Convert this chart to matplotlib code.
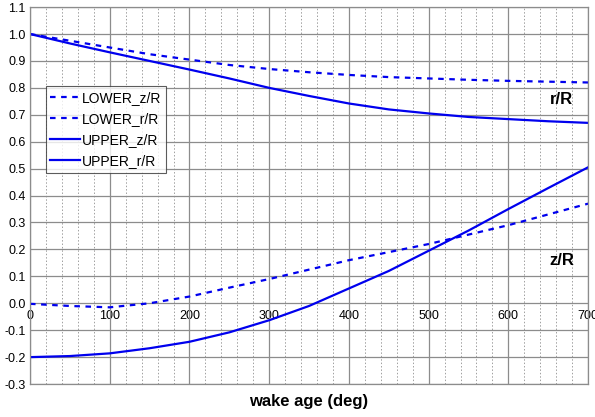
import matplotlib
matplotlib.use("Agg")
import matplotlib.pyplot as plt
import numpy as np
from matplotlib.ticker import MultipleLocator

plt.rcParams['font.family'] = ['Liberation Sans', 'DejaVu Sans']

# wake age (deg)
age = [0, 50, 100, 150, 200, 250, 300, 350, 400, 450, 500, 550, 600, 650, 700]

lower_z = [-0.002, -0.01, -0.015, 0.0, 0.025, 0.058, 0.09, 0.125, 0.16, 0.19, 0.22, 0.255, 0.29, 0.33, 0.37]
lower_r = [1.0, 0.975, 0.95, 0.925, 0.905, 0.885, 0.87, 0.858, 0.848, 0.84, 0.835, 0.83, 0.826, 0.823, 0.82]
upper_z = [-0.2, -0.196, -0.186, -0.167, -0.143, -0.108, -0.063, -0.01, 0.055, 0.12, 0.195, 0.27, 0.35, 0.428, 0.505]
upper_r = [1.0, 0.965, 0.932, 0.90, 0.868, 0.835, 0.80, 0.77, 0.742, 0.72, 0.705, 0.692, 0.684, 0.676, 0.67]

blue = '#0000ee'

fig = plt.figure(figsize=(5.95, 4.17), dpi=100)
ax = fig.add_axes([0.0504, 0.079, 0.938, 0.904])

ax.plot(age, lower_z, color=blue, lw=1.6, dashes=(2.5, 2.5), label='LOWER_z/R')
ax.plot(age, lower_r, color=blue, lw=1.6, dashes=(2.5, 2.5), label='LOWER_r/R')
ax.plot(age, upper_z, color=blue, lw=1.6, label='UPPER_z/R')
ax.plot(age, upper_r, color=blue, lw=1.6, label='UPPER_r/R')

ymin, ymax = -0.3, 1.1
ax.set_xlim(0, 700)
ax.set_ylim(ymin, ymax)
ax.xaxis.set_major_locator(MultipleLocator(100))
ax.xaxis.set_minor_locator(MultipleLocator(20))
ax.yaxis.set_major_locator(MultipleLocator(0.1))
ax.yaxis.set_major_formatter(matplotlib.ticker.FormatStrFormatter('%.1f'))
ax.grid(which='major', axis='both', color='#8c8c8c', lw=0.9)
ax.grid(which='minor', axis='x', color='#a0a0a0', lw=0.7, ls=(0, (1.5, 2)))
ax.set_axisbelow(True)
ax.tick_params(axis='x', which='both', length=0, labelbottom=False)
ax.tick_params(axis='y', length=0, labelsize=9, pad=3)
for s in ax.spines.values():
    s.set_color('#8c8c8c')
    s.set_linewidth(0.9)

# x tick labels sit on the zero line
sec = ax.secondary_xaxis((0 - ymin) / (ymax - ymin))
sec.xaxis.set_major_locator(MultipleLocator(100))
sec.tick_params(length=0, labelsize=9, pad=5)
sec.spines['bottom'].set_visible(False)

ax.set_xlabel('wake age (deg)', fontsize=12, fontweight='bold', labelpad=7)

ax.text(652, 0.755, 'r/R', fontsize=12, fontweight='bold', ha='left', va='center')
ax.text(652, 0.16, 'z/R', fontsize=12, fontweight='bold', ha='left', va='center')

leg = ax.legend(loc='upper left', bbox_to_anchor=(0.028, 0.79), fontsize=10,
                frameon=True, fancybox=False, borderpad=0.35, labelspacing=0.5,
                handlelength=2.1, handletextpad=0.15, borderaxespad=0)
leg.get_frame().set_edgecolor('#333333')
leg.get_frame().set_linewidth(0.8)

fig.savefig('out.png', dpi=100)
